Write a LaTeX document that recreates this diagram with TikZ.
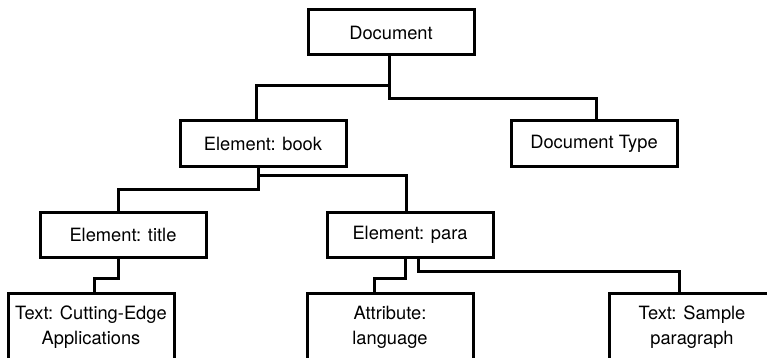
\documentclass[tikz,border=0pt]{standalone}
\usepackage{fontspec}
\setmainfont{TeX Gyre Heros}
\begin{document}
\begin{tikzpicture}[x=1pt,y=-1pt,
  box/.style={draw=black,line width=3pt,fill=white,minimum width=166pt,minimum height=45pt,inner sep=0pt,align=center,font=\fontsize{18.3}{25}\selectfont},
  tall/.style={box,minimum height=68pt},
  link/.style={draw=black,line width=3pt,line join=miter}]
\clip (0,0) rectangle (767,358);
\fill[white] (0,0) rectangle (767,358);
\node[box] (doc) at (391,32.5) {Document};
\node[box] (book) at (263,143.5) {Element: book};
\node[box] (dtype) at (594,143.5) {Document Type};
\node[box] (title) at (123,235) {Element: title};
\node[box] (para) at (410,235) {Element: para};
\node[tall] (text1) at (91,327) {Text: Cutting-Edge\\Applications};
\node[tall] (attr) at (390,327) {Attribute:\\language};
\node[tall] (sample) at (692,327) {Text: Sample\\paragraph};
\draw[link] ([xshift=-2pt]doc.south) -- ++(0,42) -| ([xshift=2pt]dtype.north);
\draw[link] ([xshift=-2pt]doc.south) ++(0,29) -| ([xshift=-7pt]book.north);
\draw[link] ([xshift=-5pt]book.south) -- ++(0,22) -| ([xshift=-5pt]title.north);
\draw[link] ([xshift=-5pt]book.south) ++(0,8) -| ([xshift=-4pt]para.north);
\draw[link] ([xshift=-5pt]title.south) -- ++(0,19) -| ([xshift=3pt]text1.north);
\draw[link] ([xshift=-5pt]para.south) -- ++(0,19) -| ([xshift=-16pt]attr.north);
\draw[link] ([xshift=8pt]para.south) -- ++(0,12) -| ([xshift=-13pt]sample.north);
\end{tikzpicture}
\end{document}
